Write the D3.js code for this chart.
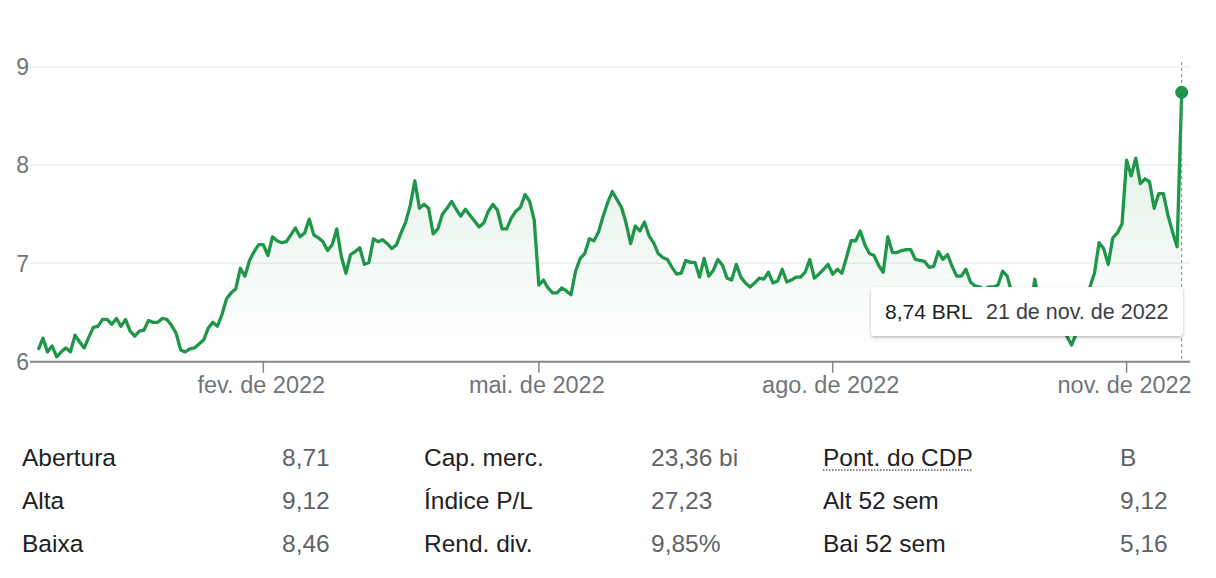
<!DOCTYPE html>
<html>
<head>
<meta charset="utf-8">
<script src="https://cdn.jsdelivr.net/npm/d3@7"></script>
<style>
  body { margin: 0; background: #fff; }
  svg { display: block; font-family: "Liberation Sans", Arial, sans-serif; }
</style>
</head>
<body>
<svg width="1216" height="578"></svg>
<script>
var width = 1216;
var height = 578;

// daily closes, 22 nov 2021 -> 21 nov 2022 (one per B3 trading day)
var prices = [
  6.12, 6.24, 6.10, 6.16, 6.05, 6.10, 6.14, 6.10, 6.27, 6.20,
  6.14, 6.25, 6.35, 6.36, 6.43, 6.43, 6.38, 6.44, 6.36, 6.43,
  6.31, 6.26, 6.31, 6.32, 6.42, 6.40, 6.40, 6.44, 6.43, 6.37,
  6.29, 6.12, 6.10, 6.13, 6.14, 6.18, 6.22, 6.34, 6.40, 6.36,
  6.48, 6.64, 6.70, 6.74, 6.95, 6.87, 7.03, 7.12, 7.19, 7.19,
  7.08, 7.27, 7.23, 7.21, 7.22, 7.29, 7.36, 7.27, 7.31, 7.45,
  7.29, 7.26, 7.22, 7.13, 7.19, 7.35, 7.07, 6.90, 7.09, 7.12,
  7.16, 6.99, 7.01, 7.25, 7.22, 7.24, 7.20, 7.15, 7.19, 7.31,
  7.42, 7.59, 7.84, 7.56, 7.60, 7.56, 7.30, 7.35, 7.50, 7.56,
  7.63, 7.55, 7.48, 7.55, 7.49, 7.43, 7.37, 7.41, 7.53, 7.60,
  7.54, 7.35, 7.35, 7.46, 7.53, 7.57, 7.70, 7.63, 7.44, 6.78,
  6.83, 6.75, 6.70, 6.70, 6.75, 6.72, 6.68, 6.92, 7.05, 7.10,
  7.25, 7.23, 7.32, 7.48, 7.62, 7.73, 7.65, 7.57, 7.41, 7.20,
  7.38, 7.33, 7.42, 7.28, 7.21, 7.10, 7.06, 7.04, 6.96, 6.89,
  6.90, 7.03, 7.01, 7.01, 6.86, 7.05, 6.87, 6.93, 7.04, 6.98,
  6.85, 6.83, 6.99, 6.86, 6.80, 6.76, 6.80, 6.85, 6.84, 6.91,
  6.80, 6.82, 6.94, 6.81, 6.83, 6.86, 6.86, 6.91, 7.04, 6.85,
  6.89, 6.94, 6.99, 6.89, 6.94, 6.90, 7.06, 7.23, 7.23, 7.33,
  7.19, 7.10, 7.08, 6.98, 6.91, 7.27, 7.11, 7.11, 7.13, 7.14,
  7.14, 7.04, 7.03, 7.02, 6.96, 6.97, 7.12, 7.04, 7.09, 6.97,
  6.87, 6.87, 6.94, 6.81, 6.77, 6.76, 6.74, 6.76, 6.76, 6.78,
  6.92, 6.87, 6.70, 6.62, 6.55, 6.58, 6.50, 6.84, 6.60, 6.52,
  6.45, 6.48, 6.38, 6.35, 6.26, 6.17, 6.28, 6.45, 6.60, 6.76,
  6.90, 7.21, 7.15, 6.99, 7.26, 7.31, 7.40, 8.05, 7.89, 8.07,
  7.81, 7.86, 7.83, 7.56, 7.71, 7.71, 7.49, 7.32, 7.17, 8.74
];

var startDate = "2021-11-22";
var endDate = "2022-11-21";
var holidays = ["2021-12-24", "2021-12-31", "2022-02-28", "2022-03-01", "2022-04-15",
                "2022-04-21", "2022-06-16", "2022-09-07", "2022-10-12", "2022-11-02", "2022-11-15"];

var yTicks = [6, 7, 8, 9];
var tickMonths = [1, 4, 7, 10];  // fev, mai, ago, nov
var monthNames = ["jan.", "fev.", "mar.", "abr.", "mai.", "jun.", "jul.", "ago.", "set.", "out.", "nov.", "dez."];
var currency = "BRL";

var statLabels = [["Abertura", "Alta", "Baixa"],
                  ["Cap. merc.", "Índice P/L", "Rend. div."],
                  ["Pont. do CDP", "Alt 52 sem", "Bai 52 sem"]];
var statValues = [["8,71", "9,12", "8,46"],
                  ["23,36 bi", "27,23", "9,85%"],
                  ["B", "9,12", "5,16"]];

// build the trading calendar
var dates = [];
var d = new Date(startDate + "T00:00:00Z");
var last = new Date(endDate + "T00:00:00Z");
while (d <= last) {
    var iso = d.toISOString().slice(0, 10);
    var wd = d.getUTCDay();
    if (wd != 0 && wd != 6 && holidays.indexOf(iso) < 0)
        dates.push(new Date(d));
    d.setUTCDate(d.getUTCDate() + 1);
}

var data = prices.map(function(p, i) { return { i: i, date: dates[i], price: p }; });

var ticks = [];
for (var i = 1; i < dates.length; i++) {
    var m = dates[i].getUTCMonth();
    if (m != dates[i - 1].getUTCMonth() && tickMonths.indexOf(m) >= 0)
        ticks.push({ i: i, label: monthNames[m] + " de " + dates[i].getUTCFullYear() });
}

var green = "#1f9649";

var x = d3.scaleLinear()
    .domain([0, data.length - 1])
    .range([38.3, 1181.7]);

var y = d3.scaleLinear()
    .domain([6, 9])
    .range([361.7, 66.7]);

var svg = d3.select("svg")
    .attr("width", width)
    .attr("height", height);

var defs = svg.append("defs");
var grad = defs.append("linearGradient")
    .attr("id", "area-grad")
    .attr("gradientUnits", "userSpaceOnUse")
    .attr("x1", 0).attr("x2", 0)
    .attr("y1", y(9)).attr("y2", y(6));
grad.append("stop").attr("offset", "0%").attr("stop-color", green).attr("stop-opacity", 0.16);
grad.append("stop").attr("offset", "100%").attr("stop-color", green).attr("stop-opacity", 0);

var shadow = defs.append("filter").attr("id", "tip-shadow")
    .attr("x", "-10%").attr("y", "-30%").attr("width", "120%").attr("height", "170%");
shadow.append("feDropShadow")
    .attr("dx", 0).attr("dy", 1.5).attr("stdDeviation", 1.8)
    .attr("flood-color", "#000").attr("flood-opacity", 0.28);

// gridlines
svg.append("g").selectAll("line")
    .data(yTicks.slice(1))
  .enter().append("line")
    .attr("x1", 30).attr("x2", 1190)
    .attr("y1", function(t) { return y(t); })
    .attr("y2", function(t) { return y(t); })
    .attr("stroke", "#eeeff0")
    .attr("stroke-width", 1.5);

// y labels
svg.append("g").selectAll("text")
    .data(yTicks)
  .enter().append("text")
    .attr("x", 29)
    .attr("y", function(t) { return y(t); })
    .attr("dy", "0.36em")
    .attr("text-anchor", "end")
    .attr("font-size", 23)
    .attr("fill", "#70757a")
    .text(function(t) { return t; });

// area + line
var area = d3.area()
    .x(function(d) { return x(d.i); })
    .y0(y(6))
    .y1(function(d) { return y(d.price); });

var line = d3.line()
    .x(function(d) { return x(d.i); })
    .y(function(d) { return y(d.price); });

svg.append("path")
    .datum(data)
    .attr("d", area)
    .attr("fill", "url(#area-grad)");

// x axis
svg.append("line")
    .attr("x1", 30).attr("x2", 1190)
    .attr("y1", y(6)).attr("y2", y(6))
    .attr("stroke", "#80868b")
    .attr("stroke-width", 2);

var xt = svg.append("g").selectAll("g")
    .data(ticks)
  .enter().append("g")
    .attr("transform", function(t) { return "translate(" + x(t.i) + ",0)"; });

xt.append("line")
    .attr("y1", y(6)).attr("y2", y(6) + 11)
    .attr("stroke", "#80868b")
    .attr("stroke-width", 1.5);

xt.append("text")
    .attr("x", -2)
    .attr("y", 393)
    .attr("text-anchor", "middle")
    .attr("font-size", 23.5)
    .attr("fill", "#70757a")
    .text(function(t) { return t.label; });

svg.append("path")
    .datum(data)
    .attr("d", line)
    .attr("fill", "none")
    .attr("stroke", green)
    .attr("stroke-width", 3.3)
    .attr("stroke-linejoin", "round");

// hover marker on the last point
var lastPt = data[data.length - 1];
svg.append("line")
    .attr("x1", x(lastPt.i)).attr("x2", x(lastPt.i))
    .attr("y1", 62).attr("y2", y(6))
    .attr("stroke", "#80868b")
    .attr("stroke-width", 1)
    .attr("stroke-dasharray", "3,3");

svg.append("circle")
    .attr("cx", x(lastPt.i))
    .attr("cy", y(lastPt.price))
    .attr("r", 6.5)
    .attr("fill", green);

// tooltip
var tip = svg.append("g").attr("transform", "translate(871,287)");
tip.append("rect")
    .attr("width", 312).attr("height", 49)
    .attr("rx", 4)
    .attr("fill", "#fff")
    .attr("filter", "url(#tip-shadow)");

var fmtDate = function(dt) {
    return dt.getUTCDate() + " de " + monthNames[dt.getUTCMonth()] + " de " + dt.getUTCFullYear();
};

tip.append("text")
    .attr("x", 14).attr("y", 32)
    .attr("font-size", 21)
    .attr("fill", "#202124")
    .text(lastPt.price.toFixed(2).replace(".", ",") + " " + currency);

tip.append("text")
    .attr("x", 115).attr("y", 32)
    .attr("font-size", 21.5)
    .attr("fill", "#3c4043")
    .text(fmtDate(lastPt.date));

// key stats table
var labelX = [22, 424, 823];
var valueX = [282, 651, 1120];
var rowY = [466, 509, 552];

statLabels.forEach(function(col, c) {
    col.forEach(function(lbl, r) {
        svg.append("text")
            .attr("x", labelX[c]).attr("y", rowY[r])
            .attr("font-size", 24.5)
            .attr("fill", "#202124")
            .text(lbl);
        svg.append("text")
            .attr("x", valueX[c]).attr("y", rowY[r])
            .attr("font-size", 24.5)
            .attr("fill", "#5f6368")
            .text(statValues[c][r]);
    });
});

// dotted underline under the CDP label
var cdp = svg.selectAll("text").filter(function() { return d3.select(this).text() == "Pont. do CDP"; });
var bb = cdp.node().getBBox();
svg.append("line")
    .attr("x1", bb.x).attr("x2", bb.x + bb.width)
    .attr("y1", rowY[0] + 4).attr("y2", rowY[0] + 4)
    .attr("stroke", "#5f6368")
    .attr("stroke-width", 1.5)
    .attr("stroke-dasharray", "1.5,1.5");
</script>
</body>
</html>
